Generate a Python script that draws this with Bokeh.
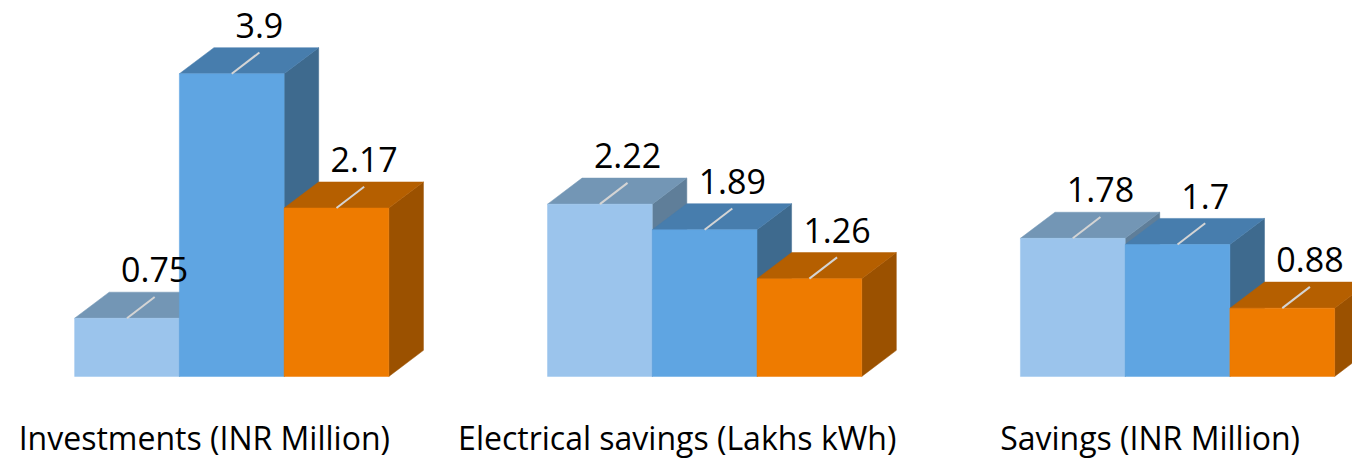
from bokeh.plotting import figure
from bokeh.models import Range1d, ColumnDataSource
from bokeh.core.properties import value
from bokeh.embed import file_html
from bokeh.resources import INLINE

# ---- data ----
categories = ["Investments (INR Million)", "Electrical savings (Lakhs kWh)", "Savings (INR Million)"]
series_1 = [0.75, 2.22, 1.78]
series_2 = [3.9, 1.89, 1.7]
series_3 = [2.17, 1.26, 0.88]
value_labels_1 = ["0.75", "2.22", "1.78"]
value_labels_2 = ["3.9", "1.89", "1.7"]
value_labels_3 = ["2.17", "1.26", "0.88"]

series = [series_1, series_2, series_3]
labels = [value_labels_1, value_labels_2, value_labels_3]

# face colours per series: (front, top, side)
colors = [
    ("#9BC4EC", "#7396B5", "#5F7E99"),
    ("#5FA5E2", "#477DAD", "#3E6A8E"),
    ("#EE7B00", "#B55F00", "#9B5100"),
]

# ---- geometry (layout constants) ----
BAR_W = 0.2215
DX = 0.0731
DY = 0.336
LABEL_SHIFT = 0.0585
LABEL_LIFT = 0.625
LEADER_LIFT = 0.274

W, H = 1352, 460
p = figure(width=W, height=H, output_backend="svg", toolbar_location=None,
           x_range=Range1d(-0.489, 2.370), y_range=Range1d(-1.083, 4.844),
           min_border=0, min_border_left=0, min_border_right=0,
           min_border_top=0, min_border_bottom=0)
p.axis.visible = False
p.grid.visible = False
p.outline_line_color = None
p.background_fill_color = "white"
p.border_fill_color = "white"

xs, ys, fills = [], [], []
seg_x0, seg_y0, seg_x1, seg_y1 = [], [], [], []
tx, ty, tt = [], [], []
for g in range(len(categories)):
    for i, s in enumerate(series):
        v = s[g]
        L = g - 1.5 * BAR_W + i * BAR_W
        R = L + BAR_W
        front, top, side = colors[i]
        # side
        xs.append([R, R + DX, R + DX, R]); ys.append([0, DY, v + DY, v]); fills.append(side)
        # top
        xs.append([L, L + DX, R + DX, R]); ys.append([v, v + DY, v + DY, v]); fills.append(top)
        # front
        xs.append([L, R, R, L]); ys.append([0, 0, v, v]); fills.append(front)
        cx = (L + R) / 2
        seg_x0.append(cx); seg_y0.append(v)
        seg_x1.append(cx + LABEL_SHIFT); seg_y1.append(v + LEADER_LIFT)
        tx.append(cx + LABEL_SHIFT); ty.append(v + LABEL_LIFT); tt.append(labels[i][g])

src = ColumnDataSource(dict(xs=xs, ys=ys, fill=fills))
p.patches("xs", "ys", source=src, fill_color="fill", line_color="fill", line_width=0.5)

p.segment(x0=seg_x0, y0=seg_y0, x1=seg_x1, y1=seg_y1, line_color="#D4D4D4", line_width=2)

p.text(x=tx, y=ty, text=tt, text_font=value("Open Sans"), text_font_size="34px",
       text_align="center", text_baseline="alphabetic", text_color="black")

cat_x = [g - 0.058 for g in range(len(categories))]
cat_y = [-0.79] * len(categories)
p.text(x=cat_x, y=cat_y, text=categories, text_font=value("Open Sans"), text_font_size="32px",
       text_align="center", text_baseline="alphabetic", text_color="black")

open("out.html", "w").write(file_html(p, INLINE))
